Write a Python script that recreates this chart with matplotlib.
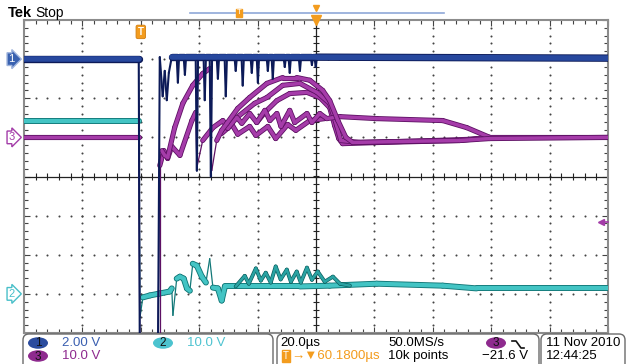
import matplotlib
matplotlib.use("Agg")
import matplotlib.pyplot as plt
import numpy as np
from matplotlib.collections import LineCollection
from matplotlib.patches import Ellipse, FancyBboxPatch

plt.rcParams["font.family"] = ["Liberation Sans", "DejaVu Sans"]

W, H = 628, 364

# horizontal: 20 us/div, trigger at t=0 (2 div from the left edge)
T_MIN, T_MAX = -40.0, 160.0
US_PER_DIV = 20.0

# vertical setup: volts/div and ground position (div above screen centre)
CH1_VDIV, CH1_POS = 2.0, 3.0
CH2_VDIV, CH2_POS = 10.0, -3.0
CH3_VDIV, CH3_POS = 10.0, 1.0
TRIG_LEVEL = -21.6  # ch3, falling edge

# ---- CH1 (blue), (us, V) ----
ch1 = [(-40, 0.0), (-0.7, 0.0), (-0.3, -17), (5.8, -17), (6.5, 0.1), (7.5, -1.9),
       (8.2, -0.6), (8.9, -2.1), (9.6, -0.7), (10.6, 0.1),
       (12.3, 0.1), (12.7, -1.2), (13.1, 0.1), (14.7, 0.1), (15.1, -0.8), (15.5, 0.1),
       (18.8, 0.1), (19.2, -5.7), (19.6, 0.1), (21.5, 0.1), (21.9, -2.1), (22.3, 0.1),
       (23.6, 0.1), (24.0, -6.0), (24.4, 0.1), (26.0, 0.1), (26.4, -1.0), (26.8, 0.1),
       (28.7, 0.1), (29.1, -1.9), (29.5, 0.1), (32.1, 0.1), (32.5, -0.6), (32.9, 0.1),
       (34.5, 0.1), (34.9, -1.35), (35.3, 0.1), (37.6, 0.1), (38.0, -0.7), (38.4, 0.1),
       (39.7, 0.1), (40.1, -1.2), (40.5, 0.1), (43.1, 0.1), (43.5, -0.6), (43.9, 0.1),
       (44.8, 0.1), (45.2, -1.0), (45.6, 0.1), (48.9, 0.1), (49.3, -0.4), (49.7, 0.1),
       (50.6, 0.1), (51.0, -0.7), (51.4, 0.1), (54.1, 0.1), (54.5, -0.6), (54.9, 0.1),
       (58.2, 0.1), (58.6, -0.3), (59.0, 0.1), (59.5, 0.1), (59.9, -0.4), (60.3, 0.1),
       (160, 0.05)]

# ---- CH2 (cyan) ----
ch2 = [(-40, 44.1), (-0.7, 44.1), (-0.3, -6.1), (0.7, -0.9), (3.1, -0.4), (6.5, 0.1),
       (9.9, 0.6), (10.6, 1.4), (11.0, -5.5), (12.3, 3.9), (13.4, 4.4), (14.7, 3.9),
       (15.8, 1.4), (16.8, 0.8), (17.8, 7.7), (19.2, 7.2), (20.9, 4.4), (22.3, 2.9),
       (23.6, 9.0), (24.7, 1.6), (26.4, 1.4), (27.7, -1.7), (28.8, 1.9), (33.9, 1.9),
       (54.5, 1.9), (64.7, 2.1), (80.8, 2.6), (103.4, 2.1), (115.0, 1.4), (126.4, 1.4),
       (160, 1.4)]
# second acquisition, ringing above the settled level
ch2b = [(32.5, 1.9), (35.6, 4.6), (37.0, 2.6), (39.4, 6.5), (41.1, 3.4), (42.8, 5.4),
        (44.5, 2.9), (46.2, 7.0), (47.9, 3.7), (50.0, 6.2), (51.4, 3.1), (53.4, 5.7),
        (54.8, 2.9), (56.9, 6.7), (58.6, 3.6), (60.6, 5.7), (63.0, 3.1), (65.8, 4.4),
        (68.2, 2.6), (71.6, 2.1)]

# ---- CH3 (magenta), several overlaid acquisitions ----
ch3a = [(-40, 0.0), (-0.7, 0.0), (-0.3, -60), (5.8, -60), (6.5, -5.9), (7.2, -3.4),
        (8.2, -4.6), (9.2, -5.1), (11.6, 2.5), (14.4, 8.7), (17.8, 13.3), (21.2, 16.3),
        (23.6, 17.6), (24.3, -8.5), (26.0, -0.8), (27.7, 1.8), (29.5, 3.6), (33.2, 7.4),
        (37.3, 10.2), (43.2, 13.8), (48.6, 15.3), (53.4, 15.3), (57.9, 14.6), (62.3, 12.0),
        (64.7, 9.4), (67.5, 4.3), (70.2, 0.0), (72.6, -1.3), (92.1, -1.0), (109.2, -0.8),
        (119.5, -0.3), (160, 0.0)]
ch3b = [(6.5, -60), (6.5, -7.2), (7.9, -3.4), (9.2, -5.4), (10.6, -2.3), (13.4, -4.6),
        (17.5, 4.3), (18.8, 6.4), (19.2, -7.7), (21.2, -0.8), (24.7, 2.5), (28.1, 4.3),
        (29.8, 2.3), (32.9, 5.1), (34.6, 3.6), (37.3, 6.1), (39.7, 3.8), (42.5, 6.9),
        (44.2, 4.3), (46.6, 6.1), (48.0, 2.8), (51.0, 6.9), (52.7, 3.8), (56.9, 6.1),
        (58.6, 3.8), (61.3, 6.1), (63.7, 4.8), (68.2, 5.3), (80.8, 4.8), (103.4, 4.3),
        (111.6, 2.5), (119.5, 0.0), (160, 0.0)]
ch3c = [(32.9, 5.1), (39.0, 8.7), (43.2, 10.2), (48.6, 13.3), (54.5, 13.8), (60.3, 11.5),
        (64.7, 8.7), (67.1, 3.0), (68.5, -0.8), (75.0, -1.3), (92.1, -1.0), (112.7, -0.5),
        (119.5, 0.0)]
ch3d = [(39.7, 3.8), (42.5, 6.4), (46.6, 9.4), (51.0, 11.2), (56.9, 11.5), (61.3, 10.2),
        (64.7, 7.6), (66.4, 3.0), (67.8, -0.3), (69.1, -1.6), (81.8, -1.3), (109.2, -0.8),
        (119.5, 0.0)]
ch3e = [(27.7, 1.0), (31.2, 3.3), (33.2, 0.8), (37.3, 2.8), (39.4, 0.5), (43.5, 2.8),
        (46.2, -0.3), (50.3, 3.3), (53.1, 1.8), (57.9, 4.3), (63.0, 4.8)]

CH1_COL = ("#27489e", "#0c1a58")
CH2_COL = ("#43c4c4", "#127878")
CH3_COL = ("#a53ca9", "#5e1164")
ORANGE = "#f39c1e"

RECT = [24 / W, (H - 333) / H, 584 / W, 313 / H]

fig = plt.figure(figsize=(W / 100, H / 100), dpi=100)


def chan_axes(vdiv, pos, z):
    a = fig.add_axes(RECT, zorder=z)
    a.set_xlim(T_MIN, T_MAX)
    a.set_ylim((-4 - pos) * vdiv, (4 - pos) * vdiv)
    a.axis("off")
    return a


def draw_trace(a, points, colors, lw=2.8, thin=0.9, edge_extra=1.3):
    core, edge = colors
    pts = np.array(points, dtype=float)
    px = a.transData.transform(pts)
    step = np.diff(px, axis=0)
    # fast edges are sparse on a scope screen -> draw them thin
    steep = np.abs(step[:, 1]) > 4.5 * np.abs(step[:, 0])
    segs = np.stack([pts[:-1], pts[1:]], axis=1)
    a.add_collection(LineCollection(segs, linewidths=np.where(steep, thin, lw + edge_extra),
                                    colors=edge, capstyle="round"))
    flat = ~steep
    a.add_collection(LineCollection(segs[flat], linewidths=lw, colors=core,
                                    capstyle="round"))


def ground_marker(a, label, fc, ec, tc):
    a.annotate(label, xy=(0, 0), xycoords=("axes fraction", "data"),
               xytext=(-9, 0), textcoords="offset points", ha="center", va="center",
               fontsize=8, color=tc, annotation_clip=False,
               bbox=dict(boxstyle="rarrow,pad=0.12", fc=fc, ec=ec, lw=1.0))


# graticule
g = fig.add_axes(RECT, zorder=1)
g.set_xlim(T_MIN, T_MAX)
g.set_ylim(-4, 4)
g.set_xticks(np.arange(T_MIN, T_MAX + 1, US_PER_DIV))
g.set_xticks(np.arange(T_MIN, T_MAX + 1, US_PER_DIV / 5), minor=True)
g.set_yticks(np.arange(-4, 5, 1))
g.set_yticks(np.arange(-4, 4.01, 0.2), minor=True)
g.tick_params(which="both", direction="in", top=True, right=True,
              labelbottom=False, labelleft=False, color="#444", width=0.8)
g.tick_params(which="major", length=4)
g.tick_params(which="minor", length=3)
for s in g.spines.values():
    s.set_color("#8c8c8c")
    s.set_linewidth(1.5)

mid_t = (T_MIN + T_MAX) / 2
ys_minor = np.arange(-4, 4.01, 0.2)
xs_minor = np.arange(T_MIN, T_MAX + 0.1, US_PER_DIV / 5)
for x in np.arange(T_MIN + US_PER_DIV, T_MAX, US_PER_DIV):
    if not np.isclose(x, mid_t):
        g.scatter(np.full_like(ys_minor, x), ys_minor, s=2.2, c="#444", lw=0)
for y in range(-3, 4):
    if y != 0:
        g.scatter(xs_minor, np.full_like(xs_minor, y), s=2.2, c="#444", lw=0)
g.axhline(0, color="#222", lw=0.9)
g.axvline(mid_t, color="#222", lw=0.9)
cticks = [[(x, -0.08), (x, 0.08)] for x in xs_minor]
cticks += [[(mid_t - 1.0, y), (mid_t + 1.0, y)] for y in ys_minor]
g.add_collection(LineCollection(cticks, colors="#222", linewidths=0.8))

# expansion point and trigger position markers
g.plot([mid_t], [1.0], marker="v", ms=7, color=ORANGE, transform=g.get_xaxis_transform(),
       clip_on=False, zorder=6)
g.text(0, 0.962, "T", transform=g.get_xaxis_transform(), ha="center", va="center",
       fontsize=7, weight="bold", color="white", zorder=6,
       bbox=dict(boxstyle="round,pad=0.18", fc=ORANGE, ec="#d07d10", lw=0.6))

ax2 = chan_axes(CH2_VDIV, CH2_POS, 2)
ax3 = chan_axes(CH3_VDIV, CH3_POS, 3)
ax1 = chan_axes(CH1_VDIV, CH1_POS, 4)

draw_trace(ax2, ch2, CH2_COL, lw=3.0)
draw_trace(ax2, ch2b, ("#2aa3a3", "#0b5f5f"), lw=1.8, edge_extra=1.0)
for trace in [ch3e, ch3d, ch3c, ch3b, ch3a]:
    draw_trace(ax3, trace, CH3_COL, lw=2.5, edge_extra=1.2)
draw_trace(ax1, ch1, CH1_COL, lw=4.0, thin=1.5)

ground_marker(ax1, "1", "#3a62b0", "#9fb4dd", "white")
ground_marker(ax2, "2", "white", "#48bfc9", "#48bfc9")
ground_marker(ax3, "3", "white", "#a33ca8", "#a33ca8")

tr = ax3.get_yaxis_transform()
ax3.plot([0.988, 1.0], [TRIG_LEVEL, TRIG_LEVEL], color="#a33ca8", lw=1.2, transform=tr,
         clip_on=False)
ax3.plot([0.988], [TRIG_LEVEL], marker="<", ms=5, color="#a33ca8", transform=tr,
         clip_on=False)

# screen furniture in pixel coordinates
ui = fig.add_axes([0, 0, 1, 1], zorder=5)
ui.set_xlim(0, W)
ui.set_ylim(H, 0)
ui.axis("off")

ui.text(8, 13, "Tek", fontsize=10.5, weight="bold", va="center")
ui.text(35, 13, "Stop", fontsize=10, va="center")
ui.plot([190, 444], [12.5, 12.5], color="#8fa8d8", lw=1.2)
ui.text(239, 13, "T", fontsize=5.5, color="white", ha="center", va="center",
        bbox=dict(boxstyle="square,pad=0.12", fc=ORANGE, ec=ORANGE))
ui.plot([316], [8], marker="v", ms=4, color=ORANGE)

for x0, x1 in [(23, 273), (277, 539), (541, 625)]:
    ui.add_patch(FancyBboxPatch((x0, 334), x1 - x0, 40, boxstyle="round,pad=0,rounding_size=6",
                                fc="white", ec="#6a6a6a", lw=1.0))

R1, R2 = 343, 356
FS = 9.5


def badge(x, y, label, fc):
    ui.add_patch(Ellipse((x, y), 20, 11.5, fc=fc, ec="none"))
    ui.text(x, y + 0.5, label, fontsize=8.5, ha="center", va="center", color="#111")


badge(38, R1, "1", "#2b4c9e")
ui.text(62, R1, "2.00 V", fontsize=FS, va="center", color="#3a5fb0")
badge(163, R1, "2", "#4cc3cf")
ui.text(187, R1, "10.0 V", fontsize=FS, va="center", color="#4ec3d0")
badge(38, R2, "3", "#8e2a8e")
ui.text(62, R2, "10.0 V", fontsize=FS, va="center", color="#8e2a8e")

ui.text(280, R1, "20.0µs", fontsize=FS, va="center")
ui.text(388, R1, "50.0MS/s", fontsize=FS, va="center")
badge(496, R1, "3", "#8e2a8e")
ui.plot([512, 516, 521, 524], [341, 341, 348, 348], color="#111", lw=1.2)
ui.text(286, R2, "T", fontsize=7, color="white", ha="center", va="center",
        bbox=dict(boxstyle="square,pad=0.1", fc=ORANGE, ec=ORANGE))
ui.text(291, R2, "→▼60.1800µs", fontsize=FS, va="center", color=ORANGE)
ui.text(388, R2, "10k points", fontsize=FS, va="center")
ui.text(482, R2, "−21.6 V", fontsize=FS, va="center")
ui.text(546, R1, "11 Nov 2010", fontsize=FS, va="center")
ui.text(546, R2, "12:44:25", fontsize=FS, va="center")

fig.savefig("out.png", dpi=100)
